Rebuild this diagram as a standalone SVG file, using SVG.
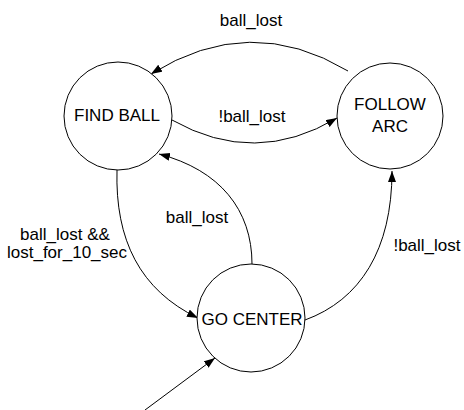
<svg xmlns="http://www.w3.org/2000/svg" width="464" height="410" viewBox="0 0 464 410">
<defs>
<style>
.st{fill:#fff;stroke:#000;stroke-width:1}
.lb{font-family:"Liberation Sans",Arial,sans-serif;font-size:17px;fill:#000;text-anchor:middle}
.cn{fill:none;stroke:#000;stroke-width:1;marker-end:url(#ah)}
</style>
<marker id="ah" markerWidth="12" markerHeight="9" refX="11" refY="4" orient="auto" markerUnits="userSpaceOnUse">
<path d="M0,0 L11,4 L0,8 Z" fill="#000"/>
</marker>
</defs>
<rect width="464" height="410" fill="#fff"/>
<g id="connectors">
<path class="cn" d="M348,71 Q250,12 151,74"/>
<path class="cn" d="M172,120 Q255,167 337,118"/>
<path class="cn" d="M117,170 C115,240 140,290 198,318"/>
<path class="cn" d="M252,264 C252,210 220,170 159,154"/>
<path class="cn" d="M305,320 C360,300 392,250 392,171"/>
<path class="cn" d="M145,410 L215,358"/>
</g>
<g id="node-find-ball">
<circle class="st" cx="118" cy="116" r="54"/>
<text class="lb" x="117" y="121">FIND BALL</text>
</g>
<g id="node-follow-arc">
<circle class="st" cx="390" cy="116" r="53"/>
<text class="lb" x="390" y="110">FOLLOW</text>
<text class="lb" x="390" y="132">ARC</text>
</g>
<g id="node-go-center">
<circle class="st" cx="251" cy="318" r="54"/>
<text class="lb" x="252" y="325">GO CENTER</text>
</g>
<g id="labels">
<text class="lb" x="251" y="26">ball_lost</text>
<text class="lb" x="252" y="122">!ball_lost</text>
<text class="lb" x="197" y="223">ball_lost</text>
<text class="lb" x="65" y="240">ball_lost &amp;&amp;</text>
<text class="lb" x="67" y="258">lost_for_10_sec</text>
<text class="lb" x="427" y="251">!ball_lost</text>
</g>
</svg>
